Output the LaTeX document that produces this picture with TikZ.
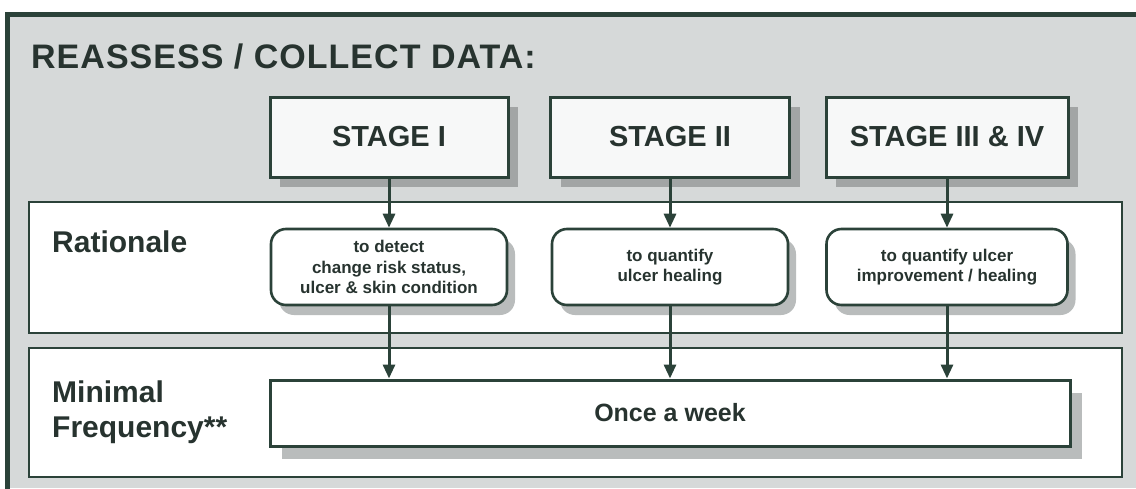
\documentclass[tikz,border=0pt]{standalone}
\usepackage{fontspec}
\setmainfont{Liberation Sans}
\usetikzlibrary{arrows.meta,shadows}
\definecolor{ink}{HTML}{2B4239}
\definecolor{txt}{HTML}{27332F}
\definecolor{bg}{HTML}{D6D9D9}
\definecolor{shd}{HTML}{A2A5A5}
\definecolor{shdl}{HTML}{B9BCBC}
\definecolor{boxfill}{HTML}{F7F8F8}
\begin{document}
\begin{tikzpicture}[x=1pt,y=-1pt,
  frame/.style={draw=ink,line width=5pt,line join=miter},
  band/.style={draw=ink,line width=1.6pt,fill=white,inner sep=0pt},
  stagebox/.style={draw=ink,line width=3pt,fill=boxfill,inner sep=0pt,
    minimum height=80pt,text=txt,font=\bfseries\fontsize{29}{34}\selectfont,
    drop shadow={shadow xshift=10pt,shadow yshift=-10pt,fill=shd,opacity=1}},
  ratbox/.style={draw=ink,line width=2.6pt,fill=white,rounded corners=15pt,inner sep=0pt,
    minimum height=76pt,text=txt,align=center,font=\bfseries\fontsize{17}{20.5}\selectfont,
    drop shadow={shadow xshift=8pt,shadow yshift=-10pt,fill=shdl,opacity=1}},
  oncebox/.style={draw=ink,line width=3pt,fill=white,inner sep=0pt,
    minimum width=800pt,minimum height=66pt,text=txt,font=\bfseries\fontsize{25}{30}\selectfont,
    drop shadow={shadow xshift=12pt,shadow yshift=-13pt,fill=shdl,opacity=1}},
  lbl/.style={anchor=base west,inner sep=0pt,text=txt,font=\bfseries\fontsize{30}{35}\selectfont},
  arr/.style={draw=ink,line width=3pt,-{Triangle[length=14pt,width=12pt]}}
]
\useasboundingbox (0,0) rectangle (1136,488);
\fill[white] (0,0) rectangle (1136,488);
\fill[bg] (7,14) rectangle (1136,488);
\draw[frame] (1140,14) -- (7.5,14) -- (7.5,492);

\node[anchor=base west,inner sep=0pt,text=txt,font=\bfseries\fontsize{34}{40}\selectfont\addfontfeature{LetterSpace=3}] (title) at (31,68) {REASSESS / COLLECT DATA:};

\node[band,minimum width=1093pt,minimum height=131pt] (rband) at (575.5,267.5) {};
\node[band,minimum width=1093pt,minimum height=129pt] (fband) at (575.5,412.5) {};

\node[lbl] (rlab) at (52,252) {Rationale};
\node[lbl] (mlab) at (52,402) {Minimal};
\node[lbl] (flab) at (52,437) {Frequency**};

\node[stagebox,minimum width=238pt] (s1) at (389,137) {STAGE I};
\node[stagebox,minimum width=239pt] (s2) at (670,137) {STAGE II};
\node[stagebox,minimum width=242pt] (s3) at (947,137) {STAGE III \& IV};

\node[ratbox,minimum width=236pt] (r1) at (389,267) {to detect\\change risk status,\\ulcer \& skin condition};
\node[ratbox,minimum width=236pt] (r2) at (670,267) {to quantify\\ulcer healing};
\node[ratbox,minimum width=241pt] (r3) at (947,267) {to quantify ulcer\\improvement / healing};

\node[oncebox] (once) at (670,413) {Once a week};

\draw[arr] (s1.south) -- (r1.north);
\draw[arr] (s2.south) -- (r2.north);
\draw[arr] (s3.south) -- (r3.north);
\draw[arr] (r1.south) -- (r1.south |- once.north);
\draw[arr] (r2.south) -- (once.north);
\draw[arr] (r3.south) -- (r3.south |- once.north);
\end{tikzpicture}
\end{document}
